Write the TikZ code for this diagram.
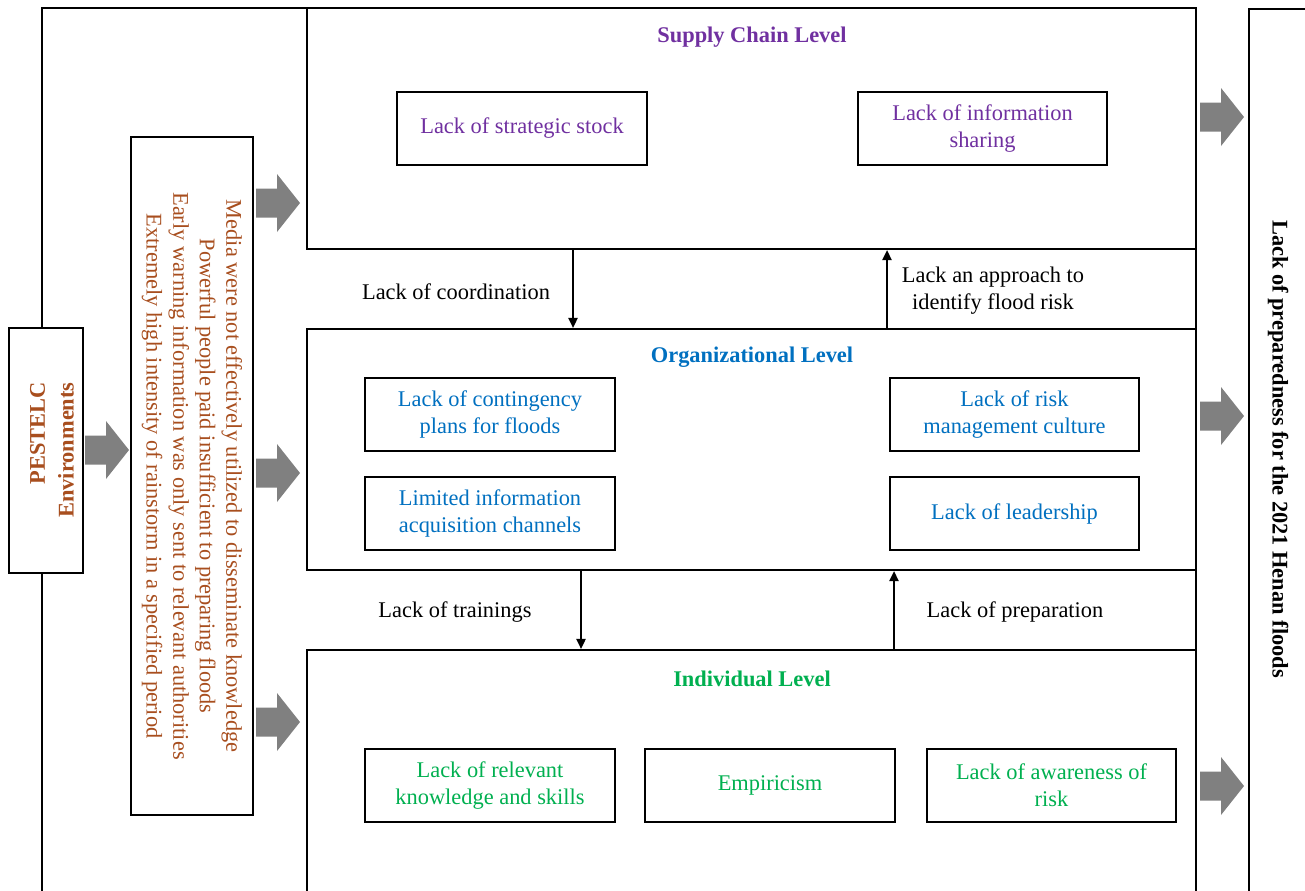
\documentclass[tikz,border=0pt]{standalone}
\usepackage{fontspec}
\setmainfont{Liberation Serif}
\usetikzlibrary{arrows.meta}
\definecolor{scpurple}{HTML}{7030A0}
\definecolor{orgblue}{HTML}{0070C0}
\definecolor{indgreen}{HTML}{00B050}
\definecolor{envbrown}{RGB}{168,78,30}
\definecolor{arrowgray}{RGB}{128,128,128}
\begin{document}
\begin{tikzpicture}[x=0.75pt,y=-0.75pt,
  every node/.style={font=\fontsize{16.8}{20}\selectfont},
  frame/.style={draw=black,line width=1.7pt},
  level/.style={frame,fill=white,inner sep=0pt,minimum width=666.75pt},
  cause/.style={frame,fill=white,inner sep=0pt,minimum width=187pt,minimum height=54.75pt,align=center},
  title/.style={font=\fontsize{16.8}{20}\selectfont\bfseries,yshift=-1.5pt},
  gaplabel/.style={align=center,text=black,yshift=-1.2pt},
  conn/.style={line width=1.3pt,-{Triangle[width=7pt,length=7.5pt]}},
  blockarrow/.pic={\fill[arrowgray] (0,-14.5) -- (21,-14.5) -- (21,-29) -- (44,0) -- (21,29) -- (21,14.5) -- (0,14.5) -- cycle;}
]
\useasboundingbox (0,0) rectangle (1305,890);
\clip (0,0) rectangle (1305,890);

% outer frame around the environment column and the three levels
\draw[frame] (42,900) -- (42,8) -- (1196,8) -- (1196,900);

% the three levels
\node[level,minimum height=180.75pt] (supply) at (751.5,128.5) {};
\node[level,minimum height=180.75pt] (org) at (751.5,449.5) {};
\node[level,minimum height=187.5pt] (indiv) at (751.5,775) {};

\node[title,text=scpurple] (supplyT) at (752,35) {Supply Chain Level};
\node[title,text=orgblue] (orgT) at (752,355) {Organizational Level};
\node[title,text=indgreen] (indivT) at (752,677) {Individual Level};

% supply chain causes
\node[cause,text=scpurple] (stock) at (522,128.5) {Lack of strategic stock};
\node[cause,text=scpurple] (share) at (982.5,128.5) {Lack of information\\sharing};

% organizational causes
\node[cause,text=orgblue] (plans) at (490,414.5) {Lack of contingency\\plans for floods};
\node[cause,text=orgblue] (channels) at (490,513.5) {Limited information\\acquisition channels};
\node[cause,text=orgblue] (culture) at (1014.5,414.5) {Lack of risk\\management culture};
\node[cause,text=orgblue] (leader) at (1014.5,513.5) {Lack of leadership};

% individual causes
\node[cause,text=indgreen] (skills) at (490,785.5) {Lack of relevant\\knowledge and skills};
\node[cause,text=indgreen] (empir) at (770,785.5) {Empiricism};
\node[cause,text=indgreen] (aware) at (1051.5,785.5) {Lack of awareness of\\risk};

% links between levels
\coordinate (x1) at (573,0);
\coordinate (x2) at (887,0);
\coordinate (x3) at (581,0);
\coordinate (x4) at (894,0);
\draw[conn] (supply.south -| x1) -- (org.north -| x1);
\draw[conn] (org.north -| x2) -- (supply.south -| x2);
\draw[conn] (org.south -| x3) -- (indiv.north -| x3);
\draw[conn] (indiv.north -| x4) -- (org.south -| x4);

\node[gaplabel] (coord) at (456,290) {Lack of coordination};
\node[gaplabel] (approach) at (993,289) {Lack an approach to\\identify flood risk};
\node[gaplabel] (train) at (455,610) {Lack of trainings};
\node[gaplabel] (prep) at (1015,610) {Lack of preparation};

% PESTELC environments and its factors
\node[frame,fill=white,minimum width=55.5pt,minimum height=183.75pt,inner sep=0pt] (pest) at (46,450.5) {};
\node[rotate=90,align=right,text=envbrown,font=\fontsize{16.8}{21.5}\selectfont\bfseries] (pestT) at (52,450) {PESTELC\\Environments};

\node[frame,fill=white,minimum width=91.5pt,minimum height=508.5pt,inner sep=0pt] (factors) at (192,476) {};
\node[rotate=-90,align=center,text=envbrown,font=\fontsize{16.8}{19.9}\selectfont] (factorsT) at (factors.center) {Media were not effectively utilized to disseminate knowledge\\Powerful people paid insufficient to preparing floods\\Early warning information was only sent to relevant authorities\\Extremely high intensity of rainstorm in a specified period};

% outcome
\node[frame,fill=white,minimum width=60pt,minimum height=700pt,inner sep=0pt,anchor=north west] (outcome) at (1248,8) {};
\node[rotate=-90,font=\fontsize{16.8}{20}\selectfont\bfseries] (outcomeT) at (1278,449) {Lack of preparedness for the 2021 Henan floods};

% block arrows
\pic at (85,450) {blockarrow};
\pic at (256,203) {blockarrow};
\pic at (256,473) {blockarrow};
\pic at (256,722) {blockarrow};
\pic at (1200,117) {blockarrow};
\pic at (1200,416) {blockarrow};
\pic at (1200,786) {blockarrow};
\end{tikzpicture}
\end{document}
